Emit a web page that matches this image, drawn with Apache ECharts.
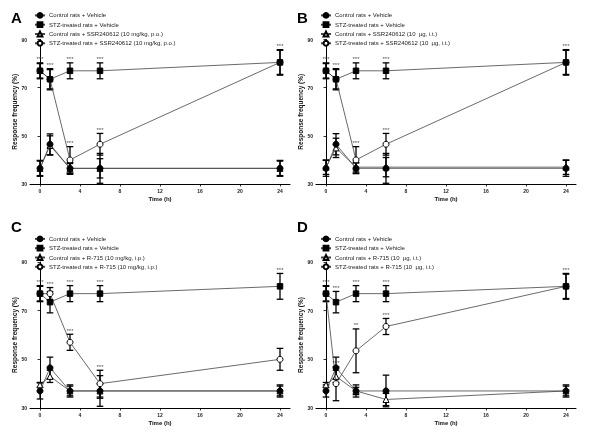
<!DOCTYPE html>
<html><head><meta charset="utf-8">
<script src="https://cdn.jsdelivr.net/npm/echarts@6/dist/echarts.min.js"></script>
<style>html,body{margin:0;padding:0;background:#fff}#c{width:600px;height:435px}#c svg{will-change:transform}</style>
</head><body><div id="c"></div>
<script>
// ---- data ----
const timeHours = [0, 1, 3, 6, 24];
const xTickValues = [0, 4, 8, 12, 16, 20, 24];
const panelLetters = ['A', 'B', 'C', 'D'];

const namesA = ['Control rats + Vehicle', 'STZ-treated rats + Vehicle', 'Control rats + SSR240612 (10 mg/kg, p.o.)', 'STZ-treated rats + SSR240612 (10 mg/kg, p.o.)'];
const namesB = ['Control rats + Vehicle', 'STZ-treated rats + Vehicle', 'Control rats + SSR240612 (10  μg, i.t.)', 'STZ-treated rats + SSR240612 (10  μg, i.t.)'];
const namesC = ['Control rats + Vehicle', 'STZ-treated rats + Vehicle', 'Control rats + R-715 (10 mg/kg, i.p.)', 'STZ-treated rats + R-715 (10 mg/kg, i.p.)'];
const namesD = ['Control rats + Vehicle', 'STZ-treated rats + Vehicle', 'Control rats + R-715 (10  μg, i.t.)', 'STZ-treated rats + R-715 (10  μg, i.t.)'];

// Panel A
const aCtrlVeh = [36.5, 46.5, 36.5, 36.5, 36.5], aCtrlVehErr = [3.3, 4.3, 2.5, 6.2, 3.3];
const aStzVeh = [77, 73.5, 77, 77, 80.5], aStzVehErr = [3.3, 4.4, 3.3, 3.3, 5.3];
const aCtrlDrug = [36.5, 46, 36.5, 36.5, 36.5], aCtrlDrugErr = [3, 4, 2, 4, 3];
const aStzDrug = [77, 73.5, 40, 46.5, 80.5], aStzDrugErr = [3, 4, 5.5, 4.5, 5];
const aSig = [[1, 0, '***'], [1, 1, '***'], [1, 2, '***'], [1, 3, '***'], [1, 4, '***'], [3, 2, '***'], [3, 3, '***']];
// Panel B
const bCtrlVeh = [36.5, 46.5, 36.5, 36.5, 36.5], bCtrlVehErr = [3.3, 4.4, 2.2, 6.2, 3.3];
const bStzVeh = [77, 73.5, 77, 77, 80.5], bStzVehErr = [3.3, 4.4, 3.3, 3.3, 5.3];
const bCtrlDrug = [37, 45, 37, 37, 37], bCtrlDrugErr = [3, 4, 2, 4, 3];
const bStzDrug = [77, 73.5, 40, 46.5, 80.5], bStzDrugErr = [3, 4, 5.5, 4.5, 5];
const bSig = [[1, 0, '***'], [1, 1, '***'], [1, 2, '***'], [1, 3, '***'], [1, 4, '***'], [3, 2, '***'], [3, 3, '***']];
// Panel C
const cCtrlVeh = [37, 46.5, 37, 37, 37], cCtrlVehErr = [3.3, 4.4, 2.5, 6.3, 2.5];
const cStzVeh = [77, 73.5, 77, 77, 80], cStzVehErr = [3.3, 4.4, 3.3, 3.3, 5.3];
const cCtrlDrug = [39.5, 43, 37, 37, 37], cCtrlDrugErr = [1, 2.5, 2, 3, 2];
const cStzDrug = [77, 77, 57, 40, 50], cStzDrugErr = [3, 2.5, 3.3, 5.5, 4.5];
const cSig = [[1, 0, '***'], [1, 2, '***'], [1, 3, '***'], [1, 4, '***'], [3, 1, '***'], [3, 2, '***'], [3, 3, '***']];
// Panel D
const dCtrlVeh = [37, 46.5, 37, 37, 37], dCtrlVehErr = [2.5, 4.4, 2.5, 6.5, 2.5];
const dStzVeh = [77, 73.5, 77, 77, 80], dStzVehErr = [3.3, 4.4, 3.3, 3.3, 5.3];
const dCtrlDrug = [39.5, 43, 37, 33.5, 37], dCtrlDrugErr = [1, 2.5, 1.5, 2.5, 2];
const dStzDrug = [77, 40, 53.5, 63.5, 80], dStzDrugErr = [3, 7, 9, 3.3, 5];
const dSig = [[1, 0, '***'], [1, 1, '***'], [1, 2, '***'], [1, 3, '***'], [1, 4, '***'], [3, 1, '***'], [3, 2, '**'], [3, 3, '***']];

// ---- layout / style ----
const FONT = 'Liberation Sans, Arial, sans-serif';
const grids = [
  {left: 30, top: 39.5, width: 260, height: 144.5},
  {left: 316, top: 39.5, width: 260, height: 144.5},
  {left: 30, top: 262, width: 260, height: 146},
  {left: 316, top: 262, width: 260, height: 146}
];
const legendPos = [{left: 34, top: 12}, {left: 320, top: 12}, {left: 34, top: 235.5}, {left: 320, top: 235.5}];
const letterPos = [[11, 10], [297, 10], [11, 219], [297, 219]];

const panels = [
  {names: namesA, means: [aCtrlVeh, aStzVeh, aCtrlDrug, aStzDrug], errs: [aCtrlVehErr, aStzVehErr, aCtrlDrugErr, aStzDrugErr], sig: aSig},
  {names: namesB, means: [bCtrlVeh, bStzVeh, bCtrlDrug, bStzDrug], errs: [bCtrlVehErr, bStzVehErr, bCtrlDrugErr, bStzDrugErr], sig: bSig},
  {names: namesC, means: [cCtrlVeh, cStzVeh, cCtrlDrug, cStzDrug], errs: [cCtrlVehErr, cStzVehErr, cCtrlDrugErr, cStzDrugErr], sig: cSig},
  {names: namesD, means: [dCtrlVeh, dStzVeh, dCtrlDrug, dStzDrug], errs: [dCtrlVehErr, dStzVehErr, dCtrlDrugErr, dStzDrugErr], sig: dSig}
];
// style per group: control+vehicle, STZ+vehicle, control+drug, STZ+drug
const symbols = [
  {symbol: 'circle', fill: '#000', size: 6, z: 3.2},
  {symbol: 'rect', fill: '#000', size: 5.5, z: 3.3},
  {symbol: 'triangle', fill: '#fff', size: 6, z: 3.0},
  {symbol: 'circle', fill: '#fff', size: 6, z: 3.1}
];

const option = {
  animation: false,
  backgroundColor: '#fff',
  textStyle: {fontFamily: FONT},
  grid: grids,
  xAxis: [], yAxis: [], legend: [], series: [],
  graphic: panelLetters.map((t, i) => ({
    type: 'text', left: letterPos[i][0], top: letterPos[i][1],
    style: {text: t, font: 'bold 15px ' + FONT, fill: '#000'}
  }))
};

panels.forEach((p, i) => {
  option.xAxis.push({
    gridIndex: i, type: 'value', min: -1, max: 25,
    name: 'Time (h)', nameLocation: 'middle', nameGap: 12,
    nameTextStyle: {fontSize: 6, fontWeight: 'bold', color: '#111', fontFamily: FONT},
    axisLine: {onZero: false, lineStyle: {color: '#000', width: 1}},
    axisTick: {length: 2.5, customValues: xTickValues, lineStyle: {color: '#000', width: 0.8}},
    axisLabel: {customValues: xTickValues, fontSize: 5, fontWeight: 'bold', color: '#222', margin: 4, fontFamily: FONT},
    splitLine: {show: false}
  });
  option.yAxis.push({
    gridIndex: i, type: 'value', min: 30, max: 90, interval: 20,
    name: 'Response frequency (%)', nameLocation: 'middle', nameGap: 12, nameRotate: 90,
    nameTextStyle: {fontSize: 6.5, fontWeight: 'bold', color: '#111', fontFamily: FONT},
    axisLine: {show: true, lineStyle: {color: '#000', width: 1}},
    axisTick: {show: true, length: 2.5, lineStyle: {color: '#000', width: 0.8}},
    axisLabel: {fontSize: 5, fontWeight: 'bold', color: '#222', margin: 3, fontFamily: FONT},
    splitLine: {show: false}
  });
  option.legend.push({
    orient: 'vertical', left: legendPos[i].left, top: legendPos[i].top,
    data: p.names, selectedMode: false,
    itemWidth: 10, itemHeight: 6, itemGap: 2.5, padding: 0,
    textStyle: {fontSize: 6, color: '#222', fontFamily: FONT, lineHeight: 6.5, padding: [0, 0, 0, -1]}
  });
  // error bars
  p.means.forEach((m, k) => {
    option.series.push({
      type: 'custom', name: 'err' + i + '_' + k, xAxisIndex: i, yAxisIndex: i, z: 2,
      data: m.map((v, j) => [timeHours[j], v, p.errs[k][j]]),
      renderItem: function (params, api) {
        const x = api.value(0), y = api.value(1), e = api.value(2);
        const top = api.coord([x, y + e]), bot = api.coord([x, y - e]);
        const w = 3.3;
        return {type: 'group', children: [
          {type: 'line', shape: {x1: top[0], y1: top[1], x2: bot[0], y2: bot[1]}, style: {stroke: '#000', lineWidth: 1.3}},
          {type: 'line', shape: {x1: top[0] - w, y1: top[1], x2: top[0] + w, y2: top[1]}, style: {stroke: '#000', lineWidth: 1.3}},
          {type: 'line', shape: {x1: bot[0] - w, y1: bot[1], x2: bot[0] + w, y2: bot[1]}, style: {stroke: '#000', lineWidth: 1.3}}
        ]};
      },
      silent: true
    });
  });
  // lines with markers
  p.means.forEach((m, k) => {
    option.series.push({
      type: 'line', name: p.names[k], xAxisIndex: i, yAxisIndex: i, z: symbols[k].z,
      data: m.map((v, j) => [timeHours[j], v]),
      symbol: symbols[k].symbol, symbolSize: symbols[k].size, showSymbol: true,
      lineStyle: {color: '#444', width: 0.8},
      itemStyle: {color: symbols[k].fill, borderColor: '#000', borderWidth: 1},
      emphasis: {disabled: true}, silent: true
    });
  });
  // significance stars
  option.series.push({
    type: 'scatter', name: 'sig' + i, xAxisIndex: i, yAxisIndex: i, z: 5,
    symbolSize: 0, silent: true,
    itemStyle: {color: '#000'},
    data: p.sig.map(s => ({name: s[2], value: [timeHours[s[1]], p.means[s[0]][s[1]] + p.errs[s[0]][s[1]]]})),
    label: {show: true, position: 'top', distance: 0.5, formatter: '{b}', fontSize: 6, color: '#222', fontFamily: FONT}
  });
});

const chart = echarts.init(document.getElementById('c'), null, {renderer: 'svg'});
chart.setOption(option);
</script>
</body></html>
